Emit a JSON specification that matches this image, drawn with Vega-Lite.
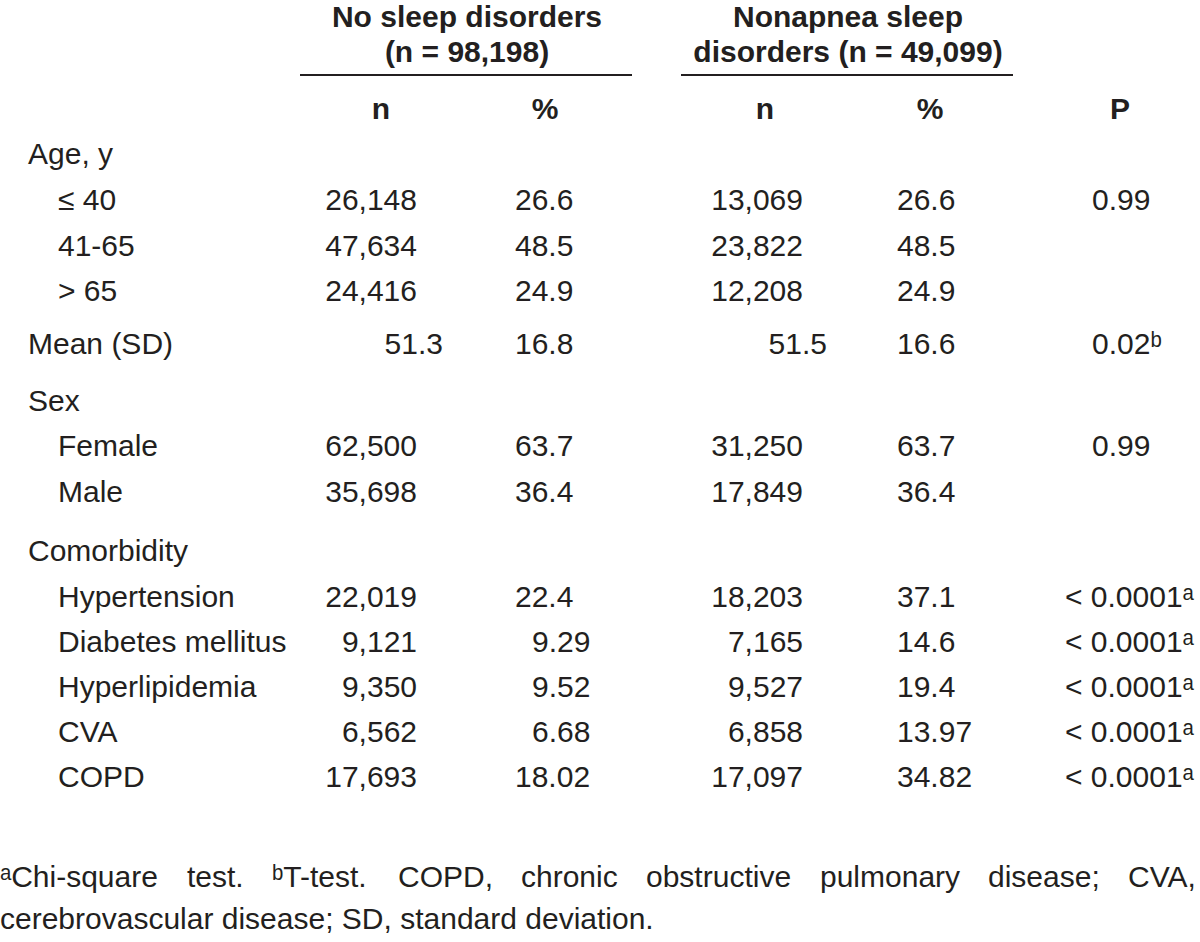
{
  "$schema": "https://vega.github.io/schema/vega-lite/v6.json",
  "width": 1200,
  "height": 942,
  "autosize": {"type": "fit", "contains": "padding"},
  "padding": 0,
  "background": "white",
  "config": {
    "view": {"stroke": null},
    "text": {"font": "Liberation Sans, Arial, sans-serif", "fontSize": 30, "color": "#231f20", "baseline": "middle"}
  },
  "datasets": {
    "cells": [
      {"r": 0, "c": 6, "t": "No sleep disorders", "k": "hdr"},
      {"r": 1, "c": 6, "t": "(n = 98,198)", "k": "hdr"},
      {"r": 0, "c": 15, "t": "Nonapnea sleep", "k": "hdr"},
      {"r": 1, "c": 15, "t": "disorders (n = 49,099)", "k": "hdr"},
      {"r": 3, "c": 3, "t": "n", "k": "hdr"},
      {"r": 3, "c": 9, "t": "%", "k": "hdr"},
      {"r": 3, "c": 12, "t": "n", "k": "hdr"},
      {"r": 3, "c": 17, "t": "%", "k": "hdr"},
      {"r": 3, "c": 21, "t": "P", "k": "hdr"},

      {"r": 4, "c": 0, "t": "Age, y", "k": "lab"},
      {"r": 5, "c": 1, "t": "≤ 40", "k": "lab"},
      {"r": 6, "c": 1, "t": "41-65", "k": "lab"},
      {"r": 7, "c": 1, "t": "> 65", "k": "lab"},
      {"r": 8, "c": 0, "t": "Mean (SD)", "k": "lab"},
      {"r": 9, "c": 0, "t": "Sex", "k": "lab"},
      {"r": 10, "c": 1, "t": "Female", "k": "lab"},
      {"r": 11, "c": 1, "t": "Male", "k": "lab"},
      {"r": 12, "c": 0, "t": "Comorbidity", "k": "lab"},
      {"r": 13, "c": 1, "t": "Hypertension", "k": "lab"},
      {"r": 14, "c": 1, "t": "Diabetes mellitus", "k": "lab"},
      {"r": 15, "c": 1, "t": "Hyperlipidemia", "k": "lab"},
      {"r": 16, "c": 1, "t": "CVA", "k": "lab"},
      {"r": 17, "c": 1, "t": "COPD", "k": "lab"},

      {"r": 5, "c": 4, "t": "26,148", "k": "num"},
      {"r": 5, "c": 13, "t": "13,069", "k": "num"},
      {"r": 6, "c": 4, "t": "47,634", "k": "num"},
      {"r": 6, "c": 13, "t": "23,822", "k": "num"},
      {"r": 7, "c": 4, "t": "24,416", "k": "num"},
      {"r": 7, "c": 13, "t": "12,208", "k": "num"},
      {"r": 8, "c": 5, "t": "51.3", "k": "num"},
      {"r": 8, "c": 14, "t": "51.5", "k": "num"},
      {"r": 10, "c": 4, "t": "62,500", "k": "num"},
      {"r": 10, "c": 13, "t": "31,250", "k": "num"},
      {"r": 11, "c": 4, "t": "35,698", "k": "num"},
      {"r": 11, "c": 13, "t": "17,849", "k": "num"},
      {"r": 13, "c": 4, "t": "22,019", "k": "num"},
      {"r": 13, "c": 13, "t": "18,203", "k": "num"},
      {"r": 14, "c": 4, "t": "9,121", "k": "num"},
      {"r": 14, "c": 13, "t": "7,165", "k": "num"},
      {"r": 15, "c": 4, "t": "9,350", "k": "num"},
      {"r": 15, "c": 13, "t": "9,527", "k": "num"},
      {"r": 16, "c": 4, "t": "6,562", "k": "num"},
      {"r": 16, "c": 13, "t": "6,858", "k": "num"},
      {"r": 17, "c": 4, "t": "17,693", "k": "num"},
      {"r": 17, "c": 13, "t": "17,097", "k": "num"},

      {"r": 5, "c": 7, "t": "26.6", "k": "val"},
      {"r": 5, "c": 16, "t": "26.6", "k": "val"},
      {"r": 5, "c": 20, "t": "0.99", "k": "val"},
      {"r": 6, "c": 7, "t": "48.5", "k": "val"},
      {"r": 6, "c": 16, "t": "48.5", "k": "val"},
      {"r": 7, "c": 7, "t": "24.9", "k": "val"},
      {"r": 7, "c": 16, "t": "24.9", "k": "val"},
      {"r": 8, "c": 7, "t": "16.8", "k": "val"},
      {"r": 8, "c": 16, "t": "16.6", "k": "val"},
      {"r": 8, "c": 20, "t": "0.02ᵇ", "k": "val"},
      {"r": 10, "c": 7, "t": "63.7", "k": "val"},
      {"r": 10, "c": 16, "t": "63.7", "k": "val"},
      {"r": 10, "c": 20, "t": "0.99", "k": "val"},
      {"r": 11, "c": 7, "t": "36.4", "k": "val"},
      {"r": 11, "c": 16, "t": "36.4", "k": "val"},
      {"r": 13, "c": 7, "t": "22.4", "k": "val"},
      {"r": 13, "c": 16, "t": "37.1", "k": "val"},
      {"r": 13, "c": 19, "t": "< 0.0001ᵃ", "k": "val"},
      {"r": 14, "c": 8, "t": "9.29", "k": "val"},
      {"r": 14, "c": 16, "t": "14.6", "k": "val"},
      {"r": 14, "c": 19, "t": "< 0.0001ᵃ", "k": "val"},
      {"r": 15, "c": 8, "t": "9.52", "k": "val"},
      {"r": 15, "c": 16, "t": "19.4", "k": "val"},
      {"r": 15, "c": 19, "t": "< 0.0001ᵃ", "k": "val"},
      {"r": 16, "c": 8, "t": "6.68", "k": "val"},
      {"r": 16, "c": 16, "t": "13.97", "k": "val"},
      {"r": 16, "c": 19, "t": "< 0.0001ᵃ", "k": "val"},
      {"r": 17, "c": 7, "t": "18.02", "k": "val"},
      {"r": 17, "c": 16, "t": "34.82", "k": "val"},
      {"r": 17, "c": 19, "t": "< 0.0001ᵃ", "k": "val"}
    ],
    "rules": [
      {"r": 2, "c": 2, "c2": 10},
      {"r": 2, "c": 11, "c2": 18}
    ],
    "notes": [
      {"r": 18, "w": 0, "t": "ᵃChi-square"},
      {"r": 18, "w": 1, "t": "test."},
      {"r": 18, "w": 2, "t": "ᵇT-test."},
      {"r": 18, "w": 3, "t": "COPD,"},
      {"r": 18, "w": 4, "t": "chronic"},
      {"r": 18, "w": 5, "t": "obstructive"},
      {"r": 18, "w": 6, "t": "pulmonary"},
      {"r": 18, "w": 7, "t": "disease;"},
      {"r": 18, "w": 8, "t": "CVA,"},
      {"r": 19, "w": 0, "t": "cerebrovascular disease; SD, standard deviation."}
    ]
  },
  "encoding": {
    "x": {"field": "c", "type": "quantitative", "axis": null,
      "scale": {"domain": [0,1,2,3,4,5,6,7,8,9,10,11,12,13,14,15,16,17,18,19,20,21],
                "range": [28,58,300,381,417,443,467,515,532,545,632,681,765,803,827,848,897,930,1013,1065,1092,1120],
                "zero": false, "nice": false}},
    "y": {"field": "r", "type": "quantitative", "axis": null,
      "scale": {"domain": [0,1,2,3,4,5,6,7,8,9,10,11,12,13,14,15,16,17,18,19],
                "range": [18,53,75,110,155,201,247,292,345,402,447,493,552,598,643,688,733,778,878,920],
                "zero": false, "nice": false}}
  },
  "layer": [
    {
      "data": {"name": "rules"},
      "mark": {"type": "rule", "strokeWidth": 2, "color": "#231f20"},
      "encoding": {"x2": {"field": "c2"}}
    },
    {
      "data": {"name": "cells"},
      "transform": [{"filter": "datum.k === 'hdr'"}],
      "mark": {"type": "text", "align": "center", "fontWeight": "bold"},
      "encoding": {"text": {"field": "t"}}
    },
    {
      "data": {"name": "cells"},
      "transform": [{"filter": "datum.k === 'lab' || datum.k === 'val'"}],
      "mark": {"type": "text", "align": "left"},
      "encoding": {"text": {"field": "t"}}
    },
    {
      "data": {"name": "cells"},
      "transform": [{"filter": "datum.k === 'num'"}],
      "mark": {"type": "text", "align": "right"},
      "encoding": {"text": {"field": "t"}}
    },
    {
      "data": {"name": "notes"},
      "mark": {"type": "text", "align": "left"},
      "encoding": {
        "x": {"field": "w", "type": "quantitative", "axis": null,
          "scale": {"domain": [0,1,2,3,4,5,6,7,8], "range": [0,187,272,398,521,646,820,988,1128], "zero": false, "nice": false}},
        "text": {"field": "t"}
      }
    }
  ],
  "resolve": {"scale": {"x": "independent"}}
}
